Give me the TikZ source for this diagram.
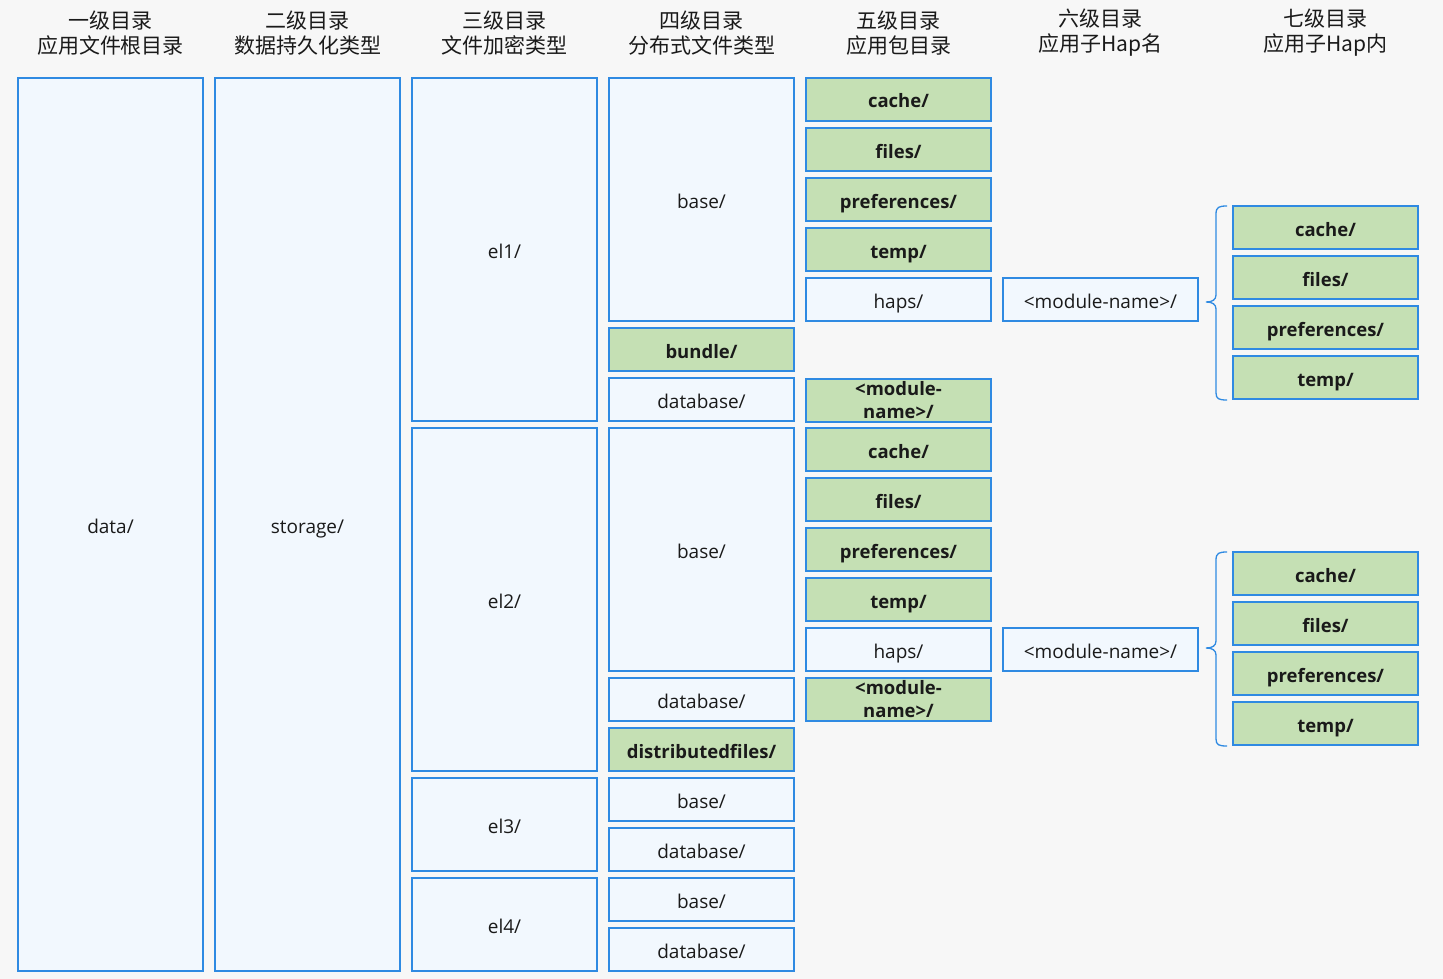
\documentclass[tikz,border=0pt]{standalone}
\usepackage{fontspec}
\setmainfont{Open Sans}
\newfontfamily\cjk{Noto Sans CJK SC}
\definecolor{bgc}{HTML}{F7F7F7}
\definecolor{bfill}{HTML}{F2F8FE}
\definecolor{bline}{HTML}{2F8AE2}
\definecolor{gfill}{HTML}{C5E0B4}
\definecolor{txt}{HTML}{1A1A1A}
\newcommand\bx[7]{%
  \node[#6, minimum width={(#4-#2)*1pt}, minimum height={(#5-#3)*1pt}]
    (#1) at ({(#2+#4)/2},{(#3+#5)/2}) {#7};}
\begin{document}
\begin{tikzpicture}[x=1pt,y=-1pt,
  wbox/.style={draw=bline, fill=bfill, line width=1.5pt, inner sep=0pt,
    text=txt, font=\fontsize{19}{21}\selectfont, align=center,
    text depth=0pt, text height=17pt},
  gbox/.style={wbox, fill=gfill, font=\fontsize{18.5}{23}\selectfont\bfseries},
  mbox/.style={gbox, text height={}, text depth={}},
  head/.style={text=txt, font=\cjk\fontsize{21}{25}\selectfont, align=center, inner sep=0pt},
  brc/.style={draw=bline, line width=1.3pt}]
\fill[bgc] (0,0) rectangle (1443,979);
\useasboundingbox (0,0) rectangle (1443,979);
% headers
\node[head] (h1) at (110.5,33) {一级目录\\应用文件根目录};
\node[head] (h2) at (307.5,33) {二级目录\\数据持久化类型};
\node[head] (h3) at (504.5,33) {三级目录\\文件加密类型};
\node[head] (h4) at (701.5,33) {四级目录\\分布式文件类型};
\node[head] (h5) at (898.5,33) {五级目录\\应用包目录};
\node[head] (h6) at (1100.5,33) {六级目录\\应用子Hap名};
\node[head] (h7) at (1325.5,33) {七级目录\\应用子Hap内};
% column 1, 2
\bx{data}{18}{78}{203}{971}{wbox}{data/}
\bx{storage}{215}{78}{400}{971}{wbox}{storage/}
% column 3
\bx{el1}{412}{78}{597}{421}{wbox}{el1/}
\bx{el2}{412}{428}{597}{771}{wbox}{el2/}
\bx{el3}{412}{778}{597}{871}{wbox}{el3/}
\bx{el4}{412}{878}{597}{971}{wbox}{el4/}
% column 4
\bx{baseA}{609}{78}{794}{321}{wbox}{base/}
\bx{bundle}{609}{328}{794}{371}{gbox}{bundle/}
\bx{dbA}{609}{378}{794}{421}{wbox}{database/}
\bx{baseB}{609}{428}{794}{671}{wbox}{base/}
\bx{dbB}{609}{678}{794}{721}{wbox}{database/}
\bx{dist}{609}{728}{794}{771}{gbox}{distributedfiles/}
\bx{baseC}{609}{778}{794}{821}{wbox}{base/}
\bx{dbC}{609}{828}{794}{871}{wbox}{database/}
\bx{baseD}{609}{878}{794}{921}{wbox}{base/}
\bx{dbD}{609}{928}{794}{971}{wbox}{database/}
% column 5
\bx{cacheA}{806}{78}{991}{121}{gbox}{cache/}
\bx{filesA}{806}{128}{991}{171}{gbox}{files/}
\bx{prefA}{806}{178}{991}{221}{gbox}{preferences/}
\bx{tempA}{806}{228}{991}{271}{gbox}{temp/}
\bx{hapsA}{806}{278}{991}{321}{wbox}{haps/}
\bx{modA}{806}{379}{991}{422}{mbox}{<module-\\name>/}
\bx{cacheB}{806}{428}{991}{471}{gbox}{cache/}
\bx{filesB}{806}{478}{991}{521}{gbox}{files/}
\bx{prefB}{806}{528}{991}{571}{gbox}{preferences/}
\bx{tempB}{806}{578}{991}{621}{gbox}{temp/}
\bx{hapsB}{806}{628}{991}{671}{wbox}{haps/}
\bx{modB}{806}{678}{991}{721}{mbox}{<module-\\name>/}
% column 6
\bx{mnA}{1003}{278}{1198}{321}{wbox}{<module-name>/}
\bx{mnB}{1003}{628}{1198}{671}{wbox}{<module-name>/}
% column 7
\bx{cA}{1233}{206}{1418}{249}{gbox}{cache/}
\bx{fA}{1233}{256}{1418}{299}{gbox}{files/}
\bx{pA}{1233}{306}{1418}{349}{gbox}{preferences/}
\bx{tA}{1233}{356}{1418}{399}{gbox}{temp/}
\bx{cB}{1233}{552}{1418}{595}{gbox}{cache/}
\bx{fB}{1233}{602}{1418}{645}{gbox}{files/}
\bx{pB}{1233}{652}{1418}{695}{gbox}{preferences/}
\bx{tB}{1233}{702}{1418}{745}{gbox}{temp/}
% braces
\coordinate (tipA) at (1206,302);
\coordinate (tipB) at (1206,648);
\draw[brc] (1227,206) .. controls (1219,206) and (1216,207) .. (1216,214) -- (1216,295)
  .. controls (1216,300) and (1212,302) .. (tipA)
  .. controls (1212,302) and (1216,304) .. (1216,309) -- (1216,393)
  .. controls (1216,399) and (1219,400) .. (1227,400);
\draw[brc] (1227,552) .. controls (1219,552) and (1216,553) .. (1216,560) -- (1216,641)
  .. controls (1216,646) and (1212,648) .. (tipB)
  .. controls (1212,648) and (1216,650) .. (1216,655) -- (1216,739)
  .. controls (1216,745) and (1219,746) .. (1227,746);
\end{tikzpicture}
\end{document}
